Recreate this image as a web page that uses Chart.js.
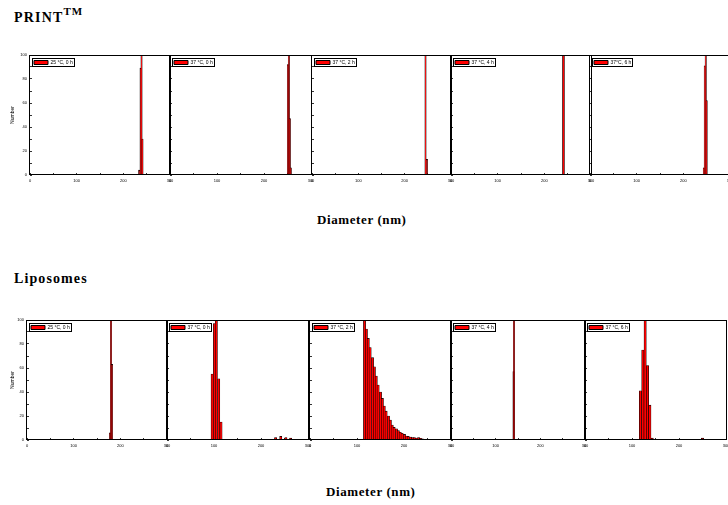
<!DOCTYPE html>
<html><head><meta charset="utf-8">
<script src="https://cdn.jsdelivr.net/npm/chart.js@4"></script>
<style>
html,body{margin:0;padding:0;background:#fff;width:728px;height:505px;overflow:hidden;}
body{position:relative;}
canvas{position:absolute;}
.t{position:absolute;font-family:"Liberation Serif","Times New Roman",serif;font-weight:bold;color:#000;white-space:nowrap;line-height:1;}
</style></head><body>
<div class="t" style="left:14px;top:11px;font-size:14px;letter-spacing:1.2px;">PRINT<sup style="font-size:11px;vertical-align:7px;line-height:0;letter-spacing:0.8px;">TM</sup></div>
<div class="t" style="left:14px;top:272px;font-size:14px;letter-spacing:1.1px;">Liposomes</div>
<div class="t" id="xt1" style="left:317px;top:213px;font-size:13px;letter-spacing:0.6px;">Diameter (nm)</div>
<div class="t" id="xt2" style="left:326px;top:485px;font-size:13px;letter-spacing:0.6px;">Diameter (nm)</div>
<script>
// ---- data ----
const xTickLabels = [0, 100, 200, 300];
const yTickLabels = [0, 20, 40, 60, 80, 100];
const yAxisTitle = 'Number';
const printLabels = ['25 °C, 0 h', '37 °C, 0 h', '37 °C, 2 h', '37 °C, 4 h', '37°C, 6 h'];
const lipoLabels = ['25 °C, 0 h', '37 °C, 0 h', '37 °C, 2 h', '37 °C, 4 h', '37 °C, 6 h'];

const print25c0hDiameter = [234, 237, 239, 241];
const print25c0hNumber = [4, 89, 100, 30];
const print37c0hDiameter = [251, 253, 255, 257];
const print37c0hNumber = [92, 100, 47, 6];
const print37c2hDiameter = [245, 248];
const print37c2hNumber = [100, 13];
const print37c4hDiameter = [241];
const print37c4hNumber = [100];
const print37c6hDiameter = [244, 246, 248, 250];
const print37c6hNumber = [6, 91, 100, 62];

const lipo25c0hDiameter = [178, 180, 182];
const lipo25c0hNumber = [6, 100, 63];
const lipo37c0hDiameter = [96, 101, 105, 110, 115, 231, 242, 253, 263];
const lipo37c0hNumber = [55, 97, 100, 51, 15, 2, 3, 2, 1.5];
const lipo37c2hDiameter = [116, 120, 124, 128, 133, 137, 141, 145, 150, 154, 158, 162, 167, 171, 175, 179, 184, 188, 192, 196, 201, 205, 209, 214, 218, 222, 226, 231, 235, 239];
const lipo37c2hNumber = [100, 92.5, 84.7, 77, 68.6, 61, 53.3, 45.8, 40, 34.7, 28.3, 24, 20, 16.7, 12.5, 10.5, 9.4, 7.8, 6.4, 5.6, 4.7, 3.3, 3, 2.5, 2, 2, 1.7, 2, 1.4, 1];
const lipo37c4hDiameter = [140, 141];
const lipo37c4hNumber = [57, 100];
const lipo37c6hDiameter = [118, 123, 128, 133, 138, 143, 250];
const lipo37c6hNumber = [41, 75, 100, 62, 29, 1.5, 1.5];

// ---- layout (plot rectangles: left, right, top, bottom) ----
const topRects = [[30,170,55,175],[170,311,55,175],[312,451,55,175],[451,591,55,175],[590,730,55,175]];
const botRects = [[27,167,320,440],[167,308,320,440],[310,451,320,440],[451,585,320,440],[585,726,320,440]];
const topBarW = [1.4, 1.4, 1.4, 2, 1.4];
const botBarW = [1.4, 2.2, 2.2, 1.4, 2.3];
const T = 6;

const framePlugin = {
  id: 'frame',
  afterDatasetsDraw(chart) {
    const {ctx, chartArea: a} = chart;
    ctx.save();
    ctx.strokeStyle = '#000';
    ctx.lineWidth = 1;
    ctx.strokeRect(Math.round(a.left) - 0.5, Math.round(a.top) + 0.5, Math.round(a.right - a.left) + 1, Math.round(a.bottom - a.top) - 1);
    ctx.restore();
  },
  afterDraw(chart) {
    const hb = chart.legend && chart.legend.legendHitBoxes && chart.legend.legendHitBoxes[0];
    if (!hb) return;
    const ctx = chart.ctx;
    ctx.save();
    ctx.strokeStyle = '#000';
    ctx.lineWidth = 1;
    ctx.strokeRect(Math.round(hb.left) - 1.5, Math.round(hb.top) - 1.5, Math.round(hb.width) + 3, Math.round(hb.height) + 3);
    ctx.restore();
  }
};

function makePanel(rect, xs, ys, label, showY, barW) {
  const [pl, pr, pt, pb] = rect;
  const L = 22, R = 10, B = 12;
  const w = pr - pl + L + R, h = pb - pt + T + B;
  const cv = document.createElement('canvas');
  cv.width = w; cv.height = h;
  cv.style.left = (pl - L) + 'px'; cv.style.top = (pt - T) + 'px';
  cv.style.width = w + 'px'; cv.style.height = h + 'px';
  document.body.appendChild(cv);
  const titlePad = 13 - (pl - L) - 3;
  new Chart(cv, {
    type: 'bar',
    data: {
      datasets: [{
        label: label,
        data: xs.map((x, i) => ({x: x, y: ys[i]})),
        backgroundColor: '#ff0000',
        borderColor: '#000000',
        borderWidth: 0.6,
        barThickness: barW
      }]
    },
    options: {
      responsive: false,
      animation: false,
      devicePixelRatio: 1,
      layout: {padding: {left: 0, top: T, right: R, bottom: 0}},
      plugins: {
        tooltip: {enabled: false},
        legend: {
          position: 'chartArea',
          align: 'start',
          title: {display: true, text: ' ', padding: 0, font: {size: 5, lineHeight: 1.4}},
          labels: {
            boxWidth: 14,
            boxHeight: 4,
            padding: 4,
            color: '#000',
            font: {size: 5, family: '"Liberation Sans", Arial, sans-serif'},
            generateLabels: (chart) => Chart.defaults.plugins.legend.labels.generateLabels(chart).map(l => Object.assign(l, {lineWidth: 1, fillStyle: '#ff0000', strokeStyle: '#000'}))
          }
        }
      },
      scales: {
        x: {
          type: 'linear', min: 0, max: 300, offset: false,
          grid: {offset: false, drawOnChartArea: false, color: '#000', tickLength: -2, lineWidth: 0.8},
          border: {display: false},
          ticks: {
            stepSize: 50, autoSkip: false, maxRotation: 0, minRotation: 0, padding: 5, color: '#000',
            font: {size: 4, family: '"Liberation Sans", Arial, sans-serif'},
            callback: (v) => xTickLabels.includes(v) ? String(v) : ''
          },
          afterFit: (s) => { s.height = B; s.paddingLeft = 0; s.paddingRight = 0; }
        },
        y: {
          min: 0, max: 100,
          grid: {drawOnChartArea: false, color: '#000', tickLength: -2, lineWidth: 0.8},
          border: {display: false},
          ticks: {
            stepSize: 10, autoSkip: false, padding: 5, color: '#000',
            font: {size: 4, family: '"Liberation Sans", Arial, sans-serif'},
            callback: (v) => (showY && yTickLabels.includes(v)) ? String(v) : ''
          },
          title: {display: showY, text: yAxisTitle, color: '#000', padding: {top: titlePad, bottom: 0},
            font: {size: 5, family: '"Liberation Sans", Arial, sans-serif'}},
          afterFit: (s) => { s.width = L; s.paddingTop = 0; s.paddingBottom = 0; }
        }
      }
    },
    plugins: [framePlugin]
  });
}

const printXs = [print25c0hDiameter, print37c0hDiameter, print37c2hDiameter, print37c4hDiameter, print37c6hDiameter];
const printYs = [print25c0hNumber, print37c0hNumber, print37c2hNumber, print37c4hNumber, print37c6hNumber];
const lipoXs = [lipo25c0hDiameter, lipo37c0hDiameter, lipo37c2hDiameter, lipo37c4hDiameter, lipo37c6hDiameter];
const lipoYs = [lipo25c0hNumber, lipo37c0hNumber, lipo37c2hNumber, lipo37c4hNumber, lipo37c6hNumber];

for (let i = 0; i < 5; i++) {
  makePanel(topRects[i], printXs[i], printYs[i], printLabels[i], i === 0, topBarW[i]);
  makePanel(botRects[i], lipoXs[i], lipoYs[i], lipoLabels[i], i === 0, botBarW[i]);
}
</script>
</body></html>
